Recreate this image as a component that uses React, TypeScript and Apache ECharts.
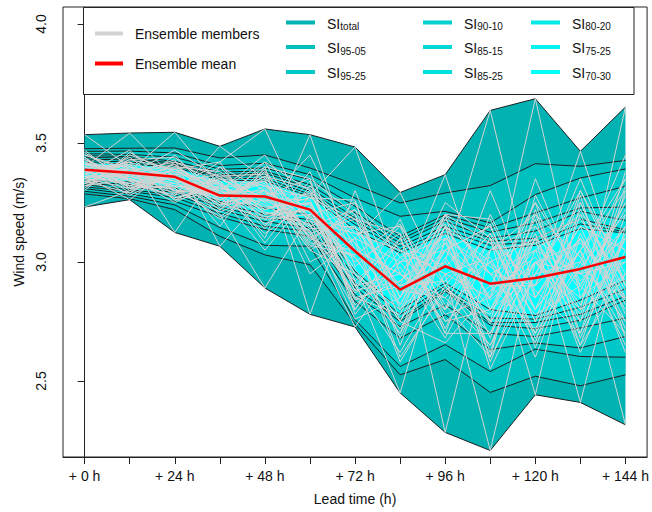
import React, { useEffect, useRef } from 'react';
import * as echarts from 'echarts';

const FONT = '"Liberation Sans", Arial, sans-serif';

const LEAD_TIMES = [0, 12, 24, 36, 48, 60, 72, 84, 96, 108, 120, 132, 144];
const X_TICKS = [0, 12, 24, 36, 48, 60, 72, 84, 96, 108, 120, 132, 144];
const X_LABEL_TICKS = [0, 24, 48, 72, 96, 120, 144];
const Y_TICKS = [2.5, 3.0, 3.5, 4.0];

const ENS_MEAN = [3.388, 3.375, 3.358, 3.279, 3.275, 3.22, 3.045, 2.884, 2.982, 2.909, 2.933, 2.971, 3.021];

const TOTAL_HI = [3.535, 3.542, 3.545, 3.486, 3.559, 3.535, 3.483, 3.292, 3.367, 3.637, 3.686, 3.465, 3.651];
const TOTAL_LO = [3.231, 3.262, 3.124, 3.066, 2.891, 2.78, 2.727, 2.45, 2.284, 2.208, 2.442, 2.41, 2.316];

const U1 = [3.476, 3.478, 3.479, 3.437, 3.45, 3.395, 3.325, 3.248, 3.29, 3.321, 3.413, 3.402, 3.427];
const U2 = [3.465, 3.466, 3.458, 3.405, 3.415, 3.367, 3.269, 3.192, 3.213, 3.164, 3.283, 3.353, 3.391];
const U3 = [3.455, 3.452, 3.44, 3.39, 3.395, 3.346, 3.234, 3.108, 3.199, 3.143, 3.206, 3.269, 3.318];
const U4 = [3.447, 3.443, 3.423, 3.378, 3.382, 3.325, 3.206, 3.094, 3.185, 3.125, 3.164, 3.227, 3.231];
const U5 = [3.44, 3.436, 3.415, 3.367, 3.373, 3.311, 3.185, 3.08, 3.171, 3.1, 3.13, 3.213, 3.175];
const U6 = [3.433, 3.428, 3.41, 3.36, 3.362, 3.297, 3.171, 3.066, 3.15, 3.087, 3.1, 3.18, 3.135];
const U7 = [3.426, 3.42, 3.405, 3.353, 3.35, 3.285, 3.157, 3.052, 3.135, 3.07, 3.085, 3.16, 3.127];
const U8 = [3.418, 3.412, 3.398, 3.345, 3.34, 3.276, 3.136, 3.038, 3.12, 3.05, 3.07, 3.14, 3.122];

const L8 = [3.345, 3.336, 3.311, 3.255, 3.227, 3.199, 2.961, 2.8, 2.912, 2.8, 2.775, 2.84, 2.923];
const L7 = [3.339, 3.325, 3.3, 3.245, 3.2, 3.178, 2.94, 2.779, 2.898, 2.765, 2.76, 2.81, 2.887];
const L6 = [3.332, 3.316, 3.292, 3.232, 3.185, 3.164, 2.912, 2.76, 2.886, 2.745, 2.746, 2.78, 2.856];
const L5 = [3.325, 3.304, 3.282, 3.22, 3.17, 3.143, 2.891, 2.75, 2.876, 2.735, 2.72, 2.755, 2.84];
const L4 = [3.316, 3.297, 3.271, 3.205, 3.15, 3.129, 2.863, 2.729, 2.82, 2.7, 2.687, 2.723, 2.765];
const L3 = [3.308, 3.286, 3.255, 3.19, 3.136, 3.108, 2.835, 2.68, 2.779, 2.632, 2.66, 2.639, 2.687];
const L2 = [3.297, 3.276, 3.24, 3.145, 3.07, 3.066, 2.758, 2.561, 2.653, 2.54, 2.634, 2.603, 2.6];
const L1 = [3.286, 3.266, 3.22, 3.108, 3.03, 2.989, 2.74, 2.526, 2.59, 2.452, 2.52, 2.48, 2.526];

const BAND_NAMES = ['total', '95-05', '95-25', '90-10', '85-15', '85-25', '80-20', '75-25', '70-30'];
const BAND_COLORS = ['#00B2B2', '#00BFBF', '#00C8C8', '#00D0D0', '#00D8D8', '#00E0E0', '#00E8E8', '#00F2F2', '#00FFFF'];
const BAND_UPPER = [TOTAL_HI, U1, U2, U3, U4, U5, U6, U7, U8];
const BAND_LOWER = [TOTAL_LO, L1, L2, L3, L4, L5, L6, L7, L8];

const MEMBERS = [
  [3.535, 3.40, 3.31, 3.42, 3.559, 3.15, 3.02, 2.75, 3.05, 2.80, 3.10, 2.95, 2.85],
  [3.231, 3.30, 3.45, 3.25, 3.18, 3.30, 2.90, 3.10, 2.70, 3.20, 2.80, 3.05, 3.30],
  [3.40, 3.542, 3.35, 3.30, 3.42, 3.10, 3.20, 2.85, 3.10, 2.60, 2.95, 3.30, 2.95],
  [3.36, 3.262, 3.40, 3.38, 3.25, 3.45, 3.05, 2.95, 2.85, 3.05, 3.20, 2.75, 3.10],
  [3.45, 3.38, 3.545, 3.32, 3.20, 3.25, 2.95, 2.70, 3.20, 2.95, 2.70, 3.00, 3.45],
  [3.33, 3.42, 3.124, 3.40, 3.30, 3.05, 3.15, 2.90, 3.00, 2.75, 3.35, 2.90, 2.70],
  [3.38, 3.33, 3.28, 3.486, 3.35, 2.95, 3.10, 3.00, 2.80, 3.30, 2.85, 3.15, 3.05],
  [3.42, 3.36, 3.43, 3.066, 3.28, 3.35, 2.80, 3.05, 2.95, 2.85, 3.05, 2.65, 3.20],
  [3.30, 3.46, 3.36, 3.20, 2.891, 3.20, 3.25, 2.80, 3.15, 3.00, 2.60, 3.10, 2.80],
  [3.39, 3.35, 3.25, 3.34, 3.10, 3.535, 2.98, 3.15, 2.90, 2.70, 3.00, 2.85, 3.15],
  [3.44, 3.31, 3.37, 3.15, 3.40, 2.78, 3.30, 2.85, 3.25, 3.10, 2.90, 3.35, 2.90],
  [3.35, 3.44, 3.30, 3.28, 3.05, 3.28, 3.483, 2.95, 2.75, 2.90, 3.25, 2.95, 3.00],
  [3.41, 3.37, 3.47, 3.35, 3.32, 3.12, 2.727, 3.00, 3.05, 3.15, 2.75, 3.05, 3.35],
  [3.32, 3.39, 3.34, 3.22, 3.38, 3.00, 3.10, 3.292, 2.90, 2.65, 3.10, 2.80, 2.95],
  [3.47, 3.32, 3.39, 3.42, 3.15, 3.38, 2.92, 2.45, 3.10, 2.95, 3.05, 3.20, 3.05],
  [3.37, 3.41, 3.26, 3.30, 3.45, 3.18, 2.85, 2.90, 3.367, 2.80, 2.95, 3.00, 2.75],
  [3.34, 3.29, 3.42, 3.36, 3.22, 3.27, 3.18, 3.12, 2.284, 3.05, 3.15, 2.90, 3.25],
  [3.43, 3.36, 3.32, 3.18, 3.30, 3.05, 2.95, 2.80, 3.00, 3.637, 2.85, 3.10, 2.85],
  [3.31, 3.45, 3.38, 3.33, 3.08, 3.32, 3.12, 3.05, 2.95, 2.208, 3.00, 2.95, 3.10],
  [3.46, 3.34, 3.41, 3.26, 3.36, 3.10, 3.02, 2.75, 3.15, 2.85, 3.686, 2.85, 3.00],
  [3.37, 3.47, 3.29, 3.40, 3.20, 3.22, 2.90, 2.95, 2.80, 3.10, 2.442, 3.25, 2.85],
  [3.35, 3.31, 3.36, 3.24, 3.42, 3.30, 3.08, 2.88, 3.05, 2.90, 2.90, 3.465, 2.90],
  [3.40, 3.38, 3.33, 3.37, 3.26, 3.15, 3.22, 3.02, 2.88, 3.00, 3.10, 2.41, 3.15],
  [3.33, 3.43, 3.44, 3.29, 3.12, 3.25, 2.88, 2.92, 3.08, 2.75, 3.00, 2.80, 3.651],
  [3.42, 3.35, 3.27, 3.31, 3.34, 3.08, 3.05, 2.82, 3.20, 3.18, 2.80, 3.05, 2.316],
  [3.38, 3.39, 3.35, 3.27, 3.40, 3.35, 3.20, 2.65, 3.15, 2.62, 3.22, 2.70, 3.30],
  [3.36, 3.33, 3.39, 3.32, 3.24, 3.13, 2.80, 3.10, 2.72, 3.10, 2.70, 3.28, 2.68],
  [3.41, 3.40, 3.30, 3.21, 3.29, 3.28, 3.05, 2.95, 3.20, 2.58, 3.05, 2.95, 3.35],
  [3.39, 3.28, 3.37, 3.34, 3.18, 3.20, 2.90, 2.62, 2.95, 3.02, 2.66, 3.20, 2.78],
  [3.34, 3.37, 3.32, 3.28, 3.33, 3.06, 3.25, 3.05, 2.78, 2.85, 3.25, 2.68, 3.10],
  [3.44, 3.30, 3.36, 3.24, 3.26, 3.24, 2.85, 2.78, 3.18, 2.95, 2.90, 3.10, 2.62],
  [3.37, 3.42, 3.28, 3.36, 3.37, 3.17, 3.12, 3.15, 2.70, 2.70, 3.15, 2.88, 3.25],
  [3.32, 3.35, 3.40, 3.30, 3.22, 3.29, 2.95, 2.70, 3.05, 3.15, 2.75, 3.30, 2.90],
  [3.40, 3.32, 3.31, 3.19, 3.31, 3.12, 3.18, 2.88, 2.85, 2.65, 3.00, 2.75, 3.38],
  [3.35, 3.38, 3.42, 3.33, 3.14, 3.34, 2.78, 3.02, 3.10, 2.98, 2.85, 3.15, 2.72],
  [3.43, 3.34, 3.33, 3.26, 3.35, 3.19, 3.08, 2.58, 2.90, 3.12, 2.68, 2.98, 3.20],
  [3.38, 3.41, 3.26, 3.35, 3.27, 3.26, 2.88, 3.18, 2.75, 2.80, 3.18, 2.65, 2.95],
  [3.36, 3.36, 3.38, 3.23, 3.39, 3.09, 3.22, 2.82, 3.15, 2.55, 2.95, 3.25, 2.82],
  [3.45, 3.39, 3.35, 3.31, 3.16, 3.23, 2.82, 2.98, 2.68, 3.05, 3.08, 2.82, 3.28],
  [3.33, 3.36, 3.30, 3.29, 3.30, 3.14, 3.15, 2.68, 3.08, 2.90, 2.72, 3.05, 2.65],
  [3.37, 3.32, 3.37, 3.25, 3.28, 3.21, 3.00, 3.12, 2.82, 2.60, 3.28, 2.92, 3.15],
  [3.41, 3.38, 3.34, 3.33, 3.21, 3.16, 2.76, 2.85, 3.20, 3.08, 2.80, 3.22, 2.88],
  [3.35, 3.43, 3.39, 3.27, 3.36, 3.31, 3.10, 2.60, 2.88, 2.78, 3.12, 2.62, 3.05],
  [3.39, 3.35, 3.29, 3.35, 3.25, 3.11, 2.92, 3.08, 2.98, 3.16, 2.64, 3.12, 2.75],
  [3.33, 3.40, 3.36, 3.22, 3.32, 3.27, 3.26, 2.75, 2.66, 2.88, 3.02, 2.78, 3.32],
  [3.44, 3.31, 3.32, 3.30, 3.19, 3.22, 2.84, 2.92, 3.12, 2.68, 3.20, 3.02, 2.70],
  [3.36, 3.37, 3.41, 3.28, 3.34, 3.07, 3.03, 3.16, 2.80, 3.00, 2.78, 2.90, 3.22],
  [3.40, 3.34, 3.27, 3.32, 3.23, 3.25, 2.97, 2.72, 3.02, 2.74, 3.10, 3.18, 2.92],
  [3.38, 3.42, 3.35, 3.24, 3.30, 3.18, 3.14, 2.90, 2.92, 3.12, 2.88, 2.70, 3.12],
  [3.42, 3.29, 3.38, 3.31, 3.27, 3.13, 2.87, 3.00, 3.16, 2.84, 3.00, 3.08, 2.84],
];

const toPairs = (vals: number[]) => LEAD_TIMES.map((t, k) => [t, vals[k]]);

function buildOption(): any {
  const series: any[] = [];

  BAND_NAMES.forEach((name, i) => {
    const hi = BAND_UPPER[i];
    const lo = BAND_LOWER[i];
    series.push({
      type: 'custom',
      name: 'SI ' + name,
      silent: true,
      data: [[LEAD_TIMES[0], lo[0]]],
      renderItem: (_params: any, api: any) => {
        const pts: number[][] = [];
        LEAD_TIMES.forEach((t, k) => pts.push(api.coord([t, hi[k]])));
        for (let k = LEAD_TIMES.length - 1; k >= 0; k--) pts.push(api.coord([LEAD_TIMES[k], lo[k]]));
        return {
          type: 'polygon',
          shape: { points: pts },
          style: { fill: BAND_COLORS[i], stroke: null, lineWidth: 0 },
        };
      },
    });
  });

  BAND_NAMES.forEach((_name, i) => {
    [BAND_UPPER[i], BAND_LOWER[i]].forEach((arr) => {
      series.push({
        type: 'line',
        silent: true,
        symbol: 'none',
        data: toPairs(arr),
        lineStyle: { color: '#1e1e1e', width: 1 },
      });
    });
  });

  MEMBERS.forEach((m) => {
    series.push({
      type: 'line',
      silent: true,
      symbol: 'none',
      data: toPairs(m),
      lineStyle: { color: '#D3D3D3', width: 1 },
    });
  });

  series.push({
    type: 'line',
    silent: true,
    symbol: 'none',
    data: toPairs(ENS_MEAN),
    lineStyle: { color: '#FF0000', width: 2.5 },
  });

  const txt = { fontFamily: FONT, fontSize: 14, fill: '#111' };
  const graphic: any[] = [
    {
      type: 'rect',
      z: 100,
      shape: { x: 83.5, y: 7.5, width: 550.5, height: 87 },
      style: { fill: '#fff', stroke: '#222', lineWidth: 1 },
    },
    { type: 'line', z: 101, shape: { x1: 95, y1: 33.5, x2: 123, y2: 33.5 }, style: { stroke: '#D3D3D3', lineWidth: 4 } },
    { type: 'text', z: 101, x: 135, y: 34, style: { ...txt, text: 'Ensemble members', verticalAlign: 'middle', align: 'left' } },
    { type: 'line', z: 101, shape: { x1: 95, y1: 63.5, x2: 123, y2: 63.5 }, style: { stroke: '#FF0000', lineWidth: 4 } },
    { type: 'text', z: 101, x: 135, y: 64, style: { ...txt, text: 'Ensemble mean', verticalAlign: 'middle', align: 'left' } },
  ];
  const colLineX = [286, 423, 531];
  const rowY = [22.5, 47, 72];
  BAND_NAMES.forEach((name, i) => {
    const c = Math.floor(i / 3);
    const r = i % 3;
    const x0 = colLineX[c];
    const y0 = rowY[r];
    graphic.push({ type: 'line', z: 101, shape: { x1: x0, y1: y0, x2: x0 + 29, y2: y0 }, style: { stroke: BAND_COLORS[i], lineWidth: 4 } });
    graphic.push({ type: 'text', z: 101, x: x0 + 41, y: y0 + 1, style: { ...txt, text: 'SI', verticalAlign: 'middle', align: 'left' } });
    graphic.push({ type: 'text', z: 101, x: x0 + 41 + 13.3, y: y0 + 4, style: { ...txt, fontSize: 10, text: name, verticalAlign: 'middle', align: 'left' } });
  });

  return {
    animation: false,
    backgroundColor: '#fff',
    grid: { left: 63, top: 7, width: 588, height: 450, show: true, borderColor: '#222', borderWidth: 1, backgroundColor: 'transparent' },
    xAxis: {
      type: 'value',
      min: -5.76,
      max: 149.76,
      name: 'Lead time (h)',
      nameLocation: 'middle',
      nameGap: 35,
      nameTextStyle: { fontFamily: FONT, fontSize: 14, color: '#111' },
      axisLine: { show: true, lineStyle: { color: '#222' } },
      axisTick: { show: true, customValues: X_TICKS, length: 7, lineStyle: { color: '#222' } },
      axisLabel: {
        customValues: X_LABEL_TICKS,
        formatter: (v: number) => '+ ' + v + ' h',
        fontFamily: FONT,
        fontSize: 14,
        color: '#111',
        margin: 12,
      },
      splitLine: { show: false },
    },
    yAxis: {
      type: 'value',
      min: 2.1807,
      max: 4.0714,
      name: 'Wind speed (m/s)',
      nameLocation: 'middle',
      nameGap: 36,
      nameTextStyle: { fontFamily: FONT, fontSize: 14, color: '#111' },
      axisLine: { show: true, lineStyle: { color: '#222' } },
      axisTick: { show: true, customValues: Y_TICKS, length: 7, lineStyle: { color: '#222' } },
      axisLabel: {
        customValues: Y_TICKS,
        formatter: (v: number) => v.toFixed(1),
        rotate: 90,
        fontFamily: FONT,
        fontSize: 14,
        color: '#111',
        margin: 15,
      },
      splitLine: { show: false },
    },
    graphic,
    series,
  };
}

export default function App() {
  const ref = useRef<HTMLDivElement>(null);
  useEffect(() => {
    document.body.style.margin = '0';
    if (!ref.current) return;
    const chart = echarts.init(ref.current, undefined, { renderer: 'svg' });
    chart.setOption(buildOption());
    return () => chart.dispose();
  }, []);
  return <div ref={ref} style={{ width: 652, height: 512, position: 'absolute', left: 0, top: 0 }} />;
}
